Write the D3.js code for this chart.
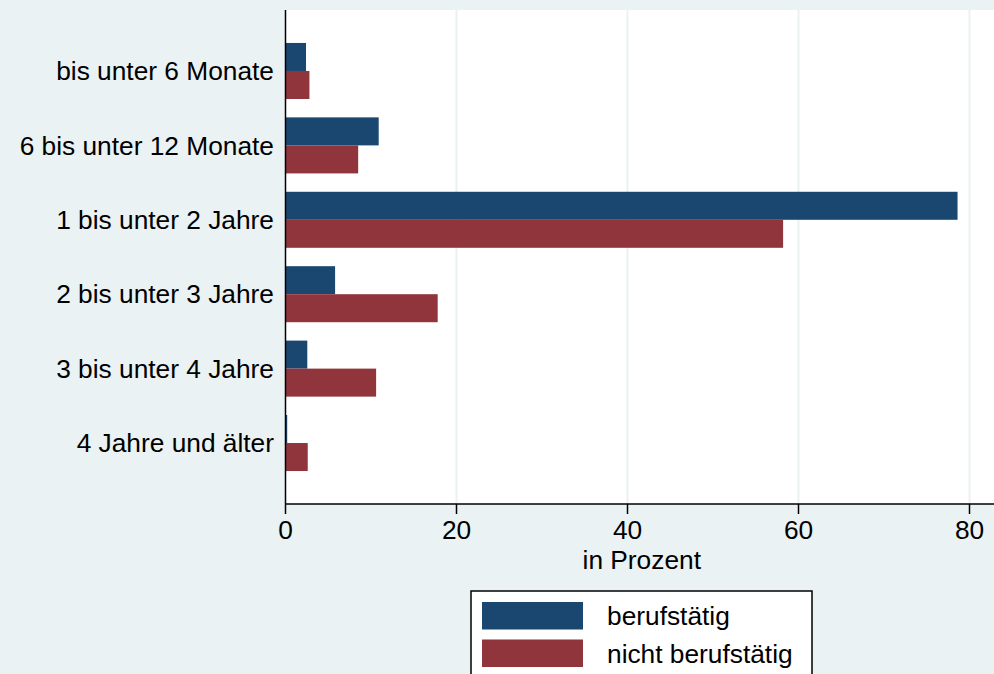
<!DOCTYPE html>
<html>
<head>
<meta charset="utf-8">
<script src="https://cdn.jsdelivr.net/npm/d3@7"></script>
<style>
  body { margin: 0; background: #eaf2f3; overflow: hidden; }
  text { font-family: "Liberation Sans", Helvetica, Arial, sans-serif; fill: #000; }
</style>
</head>
<body>
<script>
	// Daten
	var categories = ['bis unter 6 Monate', '6 bis unter 12 Monate', '1 bis unter 2 Jahre',
		'2 bis unter 3 Jahre', '3 bis unter 4 Jahre', '4 Jahre und älter']
	var seriesNames = ['berufstätig', 'nicht berufstätig']
	var berufstaetig = [2.4, 10.9, 78.6, 5.8, 2.55, 0.2]
	var nichtBerufstaetig = [2.8, 8.5, 58.2, 17.8, 10.6, 2.6]
	var xTicks = [0, 20, 40, 60, 80]
	var colors = ['#1a476f', '#90353b']

	var width = 994, height = 674
	var plot = { left: 285.5, right: 998, top: 10, bottom: 504 }
	var fontSize = '26.3px'

	var svg = d3.select('body').append('svg')
		.attr('width', width)
		.attr('height', height)

	// Plotbereich
	svg.append('rect')
		.attr('x', plot.left)
		.attr('y', plot.top)
		.attr('width', plot.right - plot.left)
		.attr('height', plot.bottom - plot.top)
		.attr('fill', '#fff')

	var x = d3.scaleLinear().domain([0, 80]).range([plot.left, 969.5])
	var y = d3.scaleBand().domain(categories).range([plot.top, plot.bottom])
		.paddingInner(0.247).paddingOuter(0.443)
	var ySub = d3.scaleBand().domain(seriesNames).range([0, y.bandwidth()])

	// Gitterlinien
	svg.selectAll('.grid')
		.data(xTicks.filter(d => d > 0))
		.enter()
		.append('line')
		.attr('x1', d => x(d)).attr('x2', d => x(d))
		.attr('y1', plot.top).attr('y2', plot.bottom)
		.attr('stroke', '#eaf2f3')
		.attr('stroke-width', 2)

	// Balken
	var rows = categories.map((c, i) => ({ cat: c, values: [berufstaetig[i], nichtBerufstaetig[i]] }))
	var groups = svg.selectAll('.row')
		.data(rows)
		.enter()
		.append('g')
		.attr('transform', d => 'translate(0,' + y(d.cat) + ')')
	groups.selectAll('rect')
		.data(d => d.values.map((v, j) => ({ v: v, s: seriesNames[j], c: colors[j] })))
		.enter()
		.append('rect')
		.attr('x', x(0))
		.attr('y', d => ySub(d.s))
		.attr('width', d => x(d.v) - x(0))
		.attr('height', ySub.bandwidth())
		.attr('fill', d => d.c)

	// x-Achse
	var xAxis = svg.append('g')
		.attr('transform', 'translate(0,' + plot.bottom + ')')
	xAxis.append('line')
		.attr('x1', plot.left).attr('x2', plot.right)
		.attr('stroke', '#000').attr('stroke-width', 1.5)
	var ticks = xAxis.selectAll('.tick')
		.data(xTicks)
		.enter()
		.append('g')
		.attr('transform', d => 'translate(' + x(d) + ',0)')
	ticks.append('line').attr('y2', 10).attr('stroke', '#000').attr('stroke-width', 1.5)
	ticks.append('text')
		.attr('y', 35)
		.attr('text-anchor', 'middle')
		.style('font-size', fontSize)
		.text(d => d)
	svg.append('text')
		.attr('x', (plot.left + plot.right) / 2)
		.attr('y', 569)
		.attr('text-anchor', 'middle')
		.style('font-size', fontSize)
		.text('in Prozent')

	// y-Achse
	svg.append('line')
		.attr('x1', plot.left).attr('x2', plot.left)
		.attr('y1', plot.top).attr('y2', plot.bottom)
		.attr('stroke', '#000').attr('stroke-width', 1.5)
	svg.selectAll('.ylabel')
		.data(categories)
		.enter()
		.append('text')
		.attr('x', 274)
		.attr('y', d => y(d) + y.bandwidth() / 2)
		.attr('dy', '0.35em')
		.attr('text-anchor', 'end')
		.style('font-size', fontSize)
		.text(d => d)

	// Legende
	var legend = svg.append('g').attr('transform', 'translate(471,591)')
	legend.append('rect')
		.attr('width', 341).attr('height', 100)
		.attr('fill', '#fff').attr('stroke', '#000').attr('stroke-width', 1.5)
	var items = legend.selectAll('.item')
		.data(seriesNames)
		.enter()
		.append('g')
		.attr('transform', (d, i) => 'translate(11,' + (11 + i * 37.5) + ')')
	items.append('rect')
		.attr('width', 101).attr('height', 27.5)
		.attr('fill', (d, i) => colors[i])
	items.append('text')
		.attr('x', 125)
		.attr('y', 23)
		.style('font-size', fontSize)
		.text(d => d)
</script>
</body>
</html>
